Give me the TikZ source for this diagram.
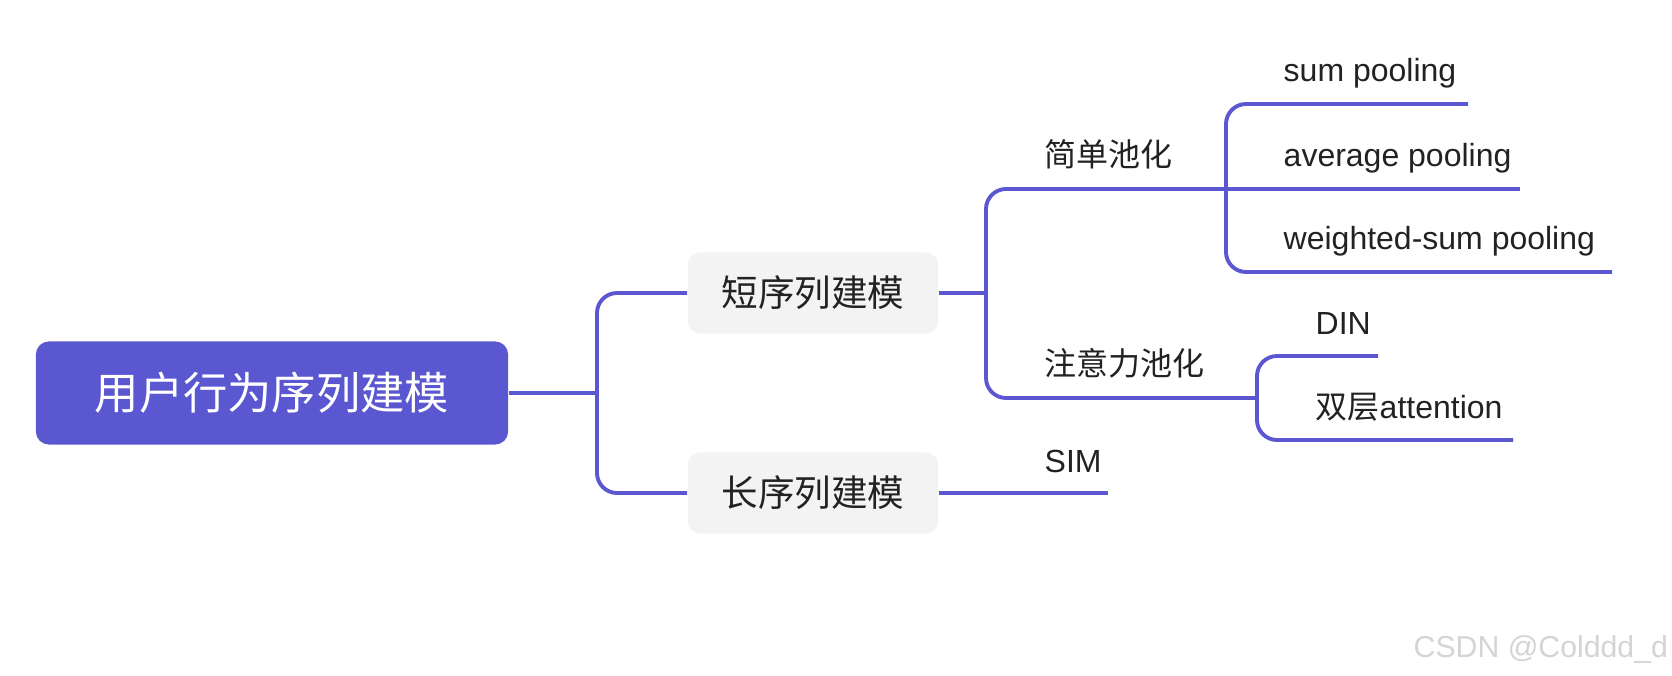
\documentclass[tikz,border=0pt]{standalone}
\usepackage{fontspec}
\setmainfont{Liberation Sans}
\newfontfamily\cjk{Noto Sans CJK SC}

\definecolor{mindpurple}{RGB}{90,87,208}
\definecolor{boxgray}{RGB}{243,243,243}
\definecolor{inkdark}{RGB}{34,34,34}
\definecolor{watergray}{RGB}{212,212,212}

\begin{document}
\begin{tikzpicture}[x=0.01cm,y=-0.01cm,
  rootbox/.style={fill=mindpurple,text=white,rounded corners=0.13cm,
    minimum width=4.72cm,minimum height=1.03cm,font=\cjk\fontsize{12.6}{14}\selectfont},
  topicbox/.style={fill=boxgray,text=inkdark,rounded corners=0.12cm,
    minimum width=2.5cm,minimum height=0.81cm,font=\cjk\fontsize{10.4}{12}\selectfont},
  leaf/.style={anchor=base west,inner sep=0pt,text=inkdark,font=\fontsize{9.1}{11}\selectfont},
  branch/.style={draw=mindpurple,line width=1.1pt,rounded corners=0.2cm}]
\useasboundingbox (0,0) rectangle (1672,676);

% boxes
\node[rootbox] (root) at (272,393) {用户行为序列建模};
\node[topicbox] (short) at (813,293) {短序列建模};
\node[topicbox] (long) at (813,493) {长序列建模};

% texts on the lines
\node[leaf] (simple) at (1044,167) {\cjk 简单池化};
\node[leaf] (attn) at (1044,376) {\cjk 注意力池化};
\node[leaf] (sim) at (1044,472) {SIM};
\node[leaf] (sumpool) at (1283,82) {sum pooling};
\node[leaf] (avgpool) at (1283,167) {average pooling};
\node[leaf] (wsumpool) at (1283,250) {weighted-sum pooling};
\node[leaf] (din) at (1315,334) {DIN};
\node[leaf] (twolayer) at (1315,418) {{\cjk 双层}attention};

\node[anchor=base west,inner sep=0pt,text=watergray,font=\fontsize{8.6}{10}\selectfont]
  (watermark) at (1413,657) {CSDN @Colddd\_d};

\coordinate (rootfork) at (597,393);
\coordinate (shortfork) at (986,293);
\coordinate (simplefork) at (1226,189);
\coordinate (attnfork) at (1257,398);
\coordinate (sumend) at (1468,104);
\coordinate (avgend) at (1520,189);
\coordinate (wsumend) at (1612,272);
\coordinate (dinend) at (1378,356);
\coordinate (twoend) at (1513,440);
\coordinate (simend) at (1108,493);

\draw[branch] (root.east) -- (rootfork);
\draw[branch] (rootfork) |- (short.west);
\draw[branch] (rootfork) |- (long.west);
\draw[branch] (short.east) -- (shortfork);
\draw[branch] (shortfork) |- (simplefork);
\draw[branch] (shortfork) |- (attnfork);
\draw[branch] (simplefork) |- (sumend);
\draw[branch] (simplefork) -- (avgend);
\draw[branch] (simplefork) |- (wsumend);
\draw[branch] (attnfork) |- (dinend);
\draw[branch] (attnfork) |- (twoend);
\draw[branch] (long.east) -- (simend);
\end{tikzpicture}
\end{document}
